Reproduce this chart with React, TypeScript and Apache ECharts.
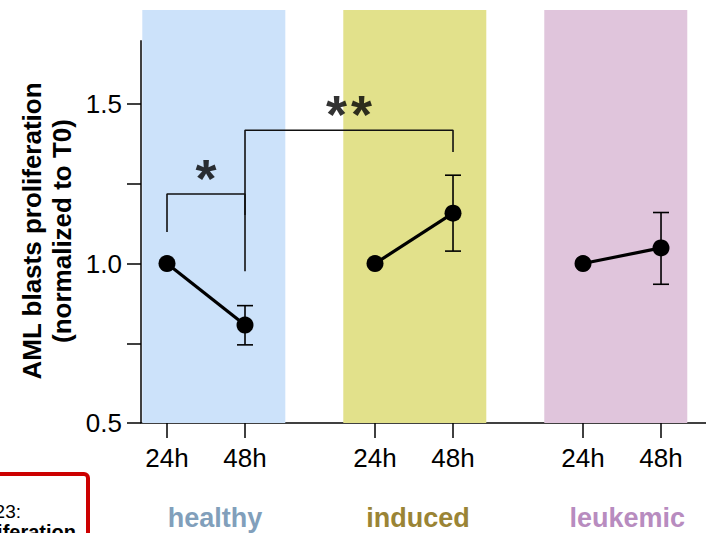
import React, { useEffect, useRef } from "react";
import * as echarts from "echarts";

// ---- data ----
const groups = ["healthy", "induced", "leukemic"];
const timeLabels = ["24h", "48h"];
const meanValues = [
  [1.0, 0.807],
  [1.0, 1.158],
  [1.0, 1.049],
];
const errLow = [
  [null, 0.745],
  [null, 1.039],
  [null, 0.935],
];
const errHigh = [
  [null, 0.868],
  [null, 1.277],
  [null, 1.16],
];
const yTickValues = [0.5, 0.75, 1.0, 1.25, 1.5];
const yLabelValues = [0.5, 1.0, 1.5];
// significance brackets between points (group, time)
const sigBrackets = [
  { from: [0, 0], to: [0, 1], leftFoot: 1.099, top: 1.218, rightFoot: 1.152, stars: "*" },
  { from: [0, 1], to: [1, 1], leftFoot: 0.976, top: 1.418, rightFoot: 1.35, stars: "**" },
];

// ---- layout helpers ----
const GROUP_STEP = 8;
const TIME_STEP = 3;
const xOf = (g: number, t: number) => 1 + g * GROUP_STEP + t * TIME_STEP;
const bandColors = ["#CCE2FA", "#E2E18B", "#E0C5DC"];
const labelColors = ["#819FBB", "#9A8435", "#B88CBF"];
const bandStart = (g: number) => 0.05 + g * 7.73;
const BAND_W = 5.5;
const labelCenters = [2.85, 10.65, 18.7];
const X_MAX = 21.73;
const Y_MIN = 0.5;
const Y_MAX = 1.795;
const Y_AXIS_TOP = 1.7;
const FONT = "'Liberation Sans', Arial, Helvetica, sans-serif";

export default function App() {
  const ref = useRef<HTMLDivElement>(null);
  useEffect(() => {
    document.body.style.margin = "0";
    const chart = echarts.init(ref.current!, null, { renderer: "svg" });

    const lineSeries = groups.map((g, gi) => ({
      type: "line",
      name: g,
      data: meanValues[gi].map((v, ti) => [xOf(gi, ti), v]),
      symbol: "circle",
      symbolSize: 17,
      lineStyle: { color: "#000", width: 3.2 },
      itemStyle: { color: "#000" },
      z: 10,
    }));

    const errData: number[][] = [];
    groups.forEach((_, gi) =>
      timeLabels.forEach((__, ti) => {
        const lo = errLow[gi][ti];
        const hi = errHigh[gi][ti];
        if (lo != null && hi != null) errData.push([xOf(gi, ti), lo, hi]);
      })
    );

    const bracketSeries = sigBrackets.map((b) => {
      const x1 = xOf(b.from[0], b.from[1]);
      const x2 = xOf(b.to[0], b.to[1]);
      return {
        type: "line",
        data: [
          [x1, b.leftFoot],
          [x1, b.top],
          [x2, b.top],
          [x2, b.rightFoot],
        ],
        symbol: "none",
        lineStyle: { color: "#111", width: 1.6 },
        z: 5,
      };
    });

    const starData: any[] = [];
    sigBrackets.forEach((b) => {
      const x1 = xOf(b.from[0], b.from[1]);
      const x2 = xOf(b.to[0], b.to[1]);
      const cx = (x1 + x2) / 2;
      const n = b.stars.length;
      for (let i = 0; i < n; i++) {
        starData.push([cx + (i - (n - 1) / 2) * 0.96, b.top + 0.07]);
      }
    });

    chart.setOption({
      animation: false,
      grid: {
        left: 141,
        right: 0,
        top: 10,
        bottom: 110,
        containLabel: false,
        outerBoundsMode: "none",
      },
      xAxis: [
        {
          type: "value",
          min: 0,
          max: X_MAX,
          splitLine: { show: false },
          axisLine: { show: true, onZero: false, lineStyle: { color: "#000", width: 1.5 } },
          axisTick: {
            show: true,
            length: 15,
            customValues: groups.flatMap((_, gi) => timeLabels.map((__, ti) => xOf(gi, ti))),
            lineStyle: { color: "#000", width: 1.5 },
          },
          axisLabel: {
            customValues: groups.flatMap((_, gi) => timeLabels.map((__, ti) => xOf(gi, ti))),
            formatter: (v: number) => {
              const r = ((Math.round(v) - 1) % GROUP_STEP) / TIME_STEP;
              return timeLabels[Math.round(r)];
            },
            margin: 22,
            fontSize: 26,
            fontFamily: FONT,
            color: "#000",
          },
        },
        {
          type: "value",
          min: 0,
          max: X_MAX,
          position: "bottom",
          splitLine: { show: false },
          axisLine: { show: false },
          axisTick: { show: false },
          axisLabel: {
            customValues: labelCenters,
            formatter: (v: number) => {
              const i = labelCenters.findIndex((c) => Math.abs(c - v) < 0.01);
              return `{g${i}|${groups[i]}}`;
            },
            margin: 81,
            rich: {
              g0: { color: labelColors[0], fontSize: 27, fontWeight: "bold", fontFamily: FONT },
              g1: { color: labelColors[1], fontSize: 27, fontWeight: "bold", fontFamily: FONT },
              g2: { color: labelColors[2], fontSize: 27, fontWeight: "bold", fontFamily: FONT },
            },
          },
        },
      ],
      yAxis: {
        type: "value",
        min: Y_MIN,
        max: Y_MAX,
        splitLine: { show: false },
        axisLine: { show: false },
        axisTick: {
          show: true,
          length: 14,
          customValues: yTickValues,
          lineStyle: { color: "#000", width: 1.5 },
        },
        axisLabel: {
          customValues: yLabelValues,
          formatter: (v: number) => v.toFixed(1),
          margin: 19,
          fontSize: 26,
          fontFamily: FONT,
          color: "#000",
        },
      },
      graphic: [
        {
          type: "text",
          x: 47,
          y: 231,
          rotation: Math.PI / 2,
          style: {
            text: "AML blasts proliferation\n(normalized to T0)",
            font: `bold 26px ${FONT}`,
            fill: "#000",
            align: "center",
            verticalAlign: "middle",
            lineHeight: 30,
          },
        },
        {
          type: "rect",
          shape: { x: -20, y: 474, width: 108, height: 100, r: 4 },
          style: { fill: "#fff", stroke: "#CC0000", lineWidth: 4 },
          z: 20,
        },
        {
          type: "text",
          x: 21,
          y: 511,
          style: {
            text: "Figure 23:",
            font: `19px ${FONT}`,
            fill: "#000",
            align: "right",
            verticalAlign: "middle",
          },
          z: 21,
        },
        {
          type: "text",
          x: 76,
          y: 522,
          style: {
            text: "Proliferation",
            font: `bold 20px ${FONT}`,
            fill: "#000",
            align: "right",
            verticalAlign: "top",
          },
          z: 21,
        },
      ],
      series: [
        {
          type: "line",
          data: [],
          silent: true,
          markArea: {
            silent: true,
            data: groups.map((_, gi) => [
              { xAxis: bandStart(gi), yAxis: Y_MIN, itemStyle: { color: bandColors[gi] } },
              { xAxis: bandStart(gi) + BAND_W, yAxis: Y_MAX },
            ]),
          },
          z: 1,
        },
        {
          type: "line",
          data: [
            [0, Y_MIN],
            [0, Y_AXIS_TOP],
          ],
          symbol: "none",
          lineStyle: { color: "#000", width: 1.5 },
          z: 6,
        },
        {
          type: "custom",
          data: errData,
          encode: { x: 0, y: [1, 2] },
          z: 8,
          renderItem: (params: any, api: any) => {
            const x = api.value(0);
            const pLo = api.coord([x, api.value(1)]);
            const pHi = api.coord([x, api.value(2)]);
            const w = 8;
            const st = { stroke: "#000", lineWidth: 1.6 };
            return {
              type: "group",
              children: [
                { type: "line", shape: { x1: pLo[0], y1: pLo[1], x2: pHi[0], y2: pHi[1] }, style: st },
                { type: "line", shape: { x1: pLo[0] - w, y1: pLo[1], x2: pLo[0] + w, y2: pLo[1] }, style: st },
                { type: "line", shape: { x1: pHi[0] - w, y1: pHi[1], x2: pHi[0] + w, y2: pHi[1] }, style: st },
              ],
            };
          },
        },
        ...bracketSeries,
        {
          type: "scatter",
          data: starData,
          symbolSize: 0,
          z: 12,
          label: {
            show: true,
            position: "inside",
            formatter: "*",
            fontSize: 54,
            fontWeight: "bold",
            fontFamily: FONT,
            color: "#000",
            offset: [0, 6],
          },
        },
        ...lineSeries,
      ],
    });
    return () => chart.dispose();
  }, []);
  return <div ref={ref} style={{ width: 706, height: 533 }} />;
}
